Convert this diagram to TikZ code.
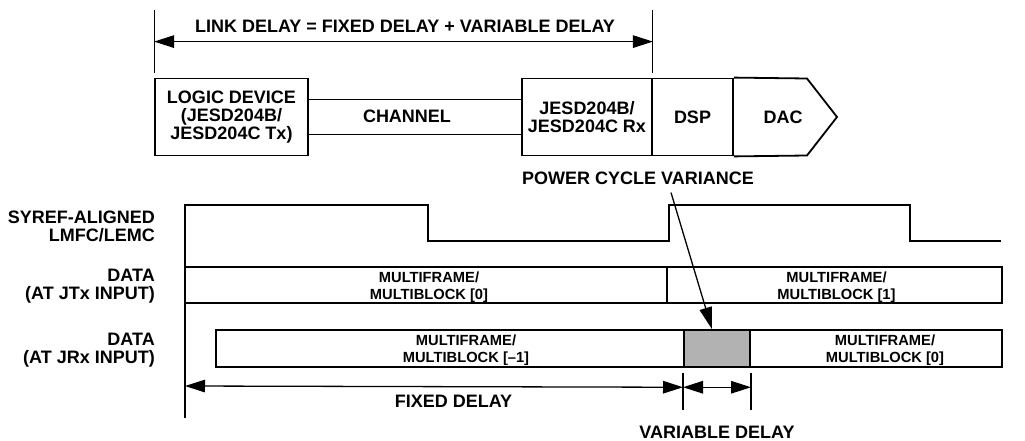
\documentclass[tikz,border=0pt]{standalone}
\usepackage{fontspec}
\setmainfont{Liberation Sans}
\usetikzlibrary{arrows.meta}
\begin{document}
\begin{tikzpicture}[x=1pt,y=-1pt,
  big/.style={font=\bfseries\fontsize{18}{18}\selectfont, inner sep=0pt, align=center},
  sml/.style={font=\bfseries\fontsize{14.7}{16.5}\selectfont, inner sep=0pt, align=center},
  blk/.style={draw, line width=1.8pt, inner sep=0pt, minimum height=77pt},
  dbox/.style={draw, line width=2pt, inner sep=0pt, minimum height=36.5pt},
  thinline/.style={line width=1.1pt},
  dim/.style={line width=1.3pt, {Triangle[length=20pt,width=12.5pt]}-{Triangle[length=20pt,width=12.5pt]}},
  sig/.style={line width=2pt, line join=miter},
]
\useasboundingbox (0,0) rectangle (1025,441);

% top block diagram
\node[blk, minimum width=153pt, big] (logic) at (231.5,117) {LOGIC DEVICE\\(JESD204B/\\JESD204C Tx)};
\node[blk, minimum width=130pt, big] (rx) at (587,117) {JESD204B/\\JESD204C Rx};
\node[blk, minimum width=81pt, big] (dsp) at (692.5,117) {DSP};
\node[big] (dac) at (783,117) {DAC};
\draw[line width=1.8pt, line join=miter] (dsp.north east) -- (807,78.5) -- (837,117) -- (807,155.5) -- (dsp.south east);
\draw[line width=1.5pt] ([yshift=17.5pt]logic.east) -- ([yshift=17.5pt]rx.west);
\draw[line width=1.5pt] ([yshift=-17.5pt]logic.east) -- ([yshift=-17.5pt]rx.west);
\node[big] (chan) at (407,116) {CHANNEL};

% link delay dimension
\draw[thinline] ([yshift=5pt]logic.north west) -- ++(0,-63);
\draw[thinline] ([yshift=5pt]rx.north east) -- ++(0,-63);
\draw[dim] ([yshift=36pt]logic.north west) -- ([yshift=36pt]rx.north east);
\node[big] (link) at (405,26) {LINK DELAY = FIXED DELAY + VARIABLE DELAY};

\node[big] (pcv) at (638,178) {POWER CYCLE VARIANCE};

% left labels
\node[big, anchor=east, align=right] (lsy) at (155,226.5) {SYREF-ALIGNED\\LMFC/LEMC};
\node[big, anchor=east, align=right] (ltx) at (155,286) {DATA\\(AT JTx INPUT)};
\node[big, anchor=east, align=right] (lrx) at (155,350) {DATA\\(AT JRx INPUT)};

% reference line
\draw[thinline] (185,205) -- (185,418);

% LMFC waveform
\draw[sig] (185,241) -- (185,205) -- (428,205) -- (428,241) -- (669,241) -- (669,205) -- (910,205) -- (910,241) -- (1001,241);

% data boxes
\node[dbox, minimum width=482pt] (tx0) at (426,285) {};
\node[dbox, minimum width=335pt] (tx1) at (834.5,285) {};
\node[dbox, minimum width=468pt] (rxm1) at (450,348.5) {};
\node[dbox, minimum width=66pt, fill=black!30] (var) at (717,348.5) {};
\node[dbox, minimum width=252pt] (rx0) at (876,348.5) {};

\node[sml] (t0) at (429,287) {MULTIFRAME/\\MULTIBLOCK [0]};
\node[sml] (t1) at (836.5,287) {MULTIFRAME/\\MULTIBLOCK [1]};
\node[sml] (tm1) at (466,350) {MULTIFRAME/\\MULTIBLOCK [–1]};
\node[sml] (tr0) at (885,350) {MULTIFRAME/\\MULTIBLOCK [0]};

% power cycle arrow
\draw[line width=1.3pt, -{Triangle[length=22pt,width=12.5pt]}] ([xshift=33pt,yshift=-8pt]pcv.south) -- ([xshift=-5pt]var.north);

% delay dimensions
\coordinate (fl) at (185,386);
\draw[thinline] ([yshift=-5pt]var.south west) -- ++(0,37);
\draw[thinline] ([yshift=-5pt]var.south east) -- ++(0,37);
\draw[dim] (fl) -- ([yshift=-19.5pt]var.south west);
\draw[dim] ([yshift=-19.5pt]var.south west) -- ([yshift=-19.5pt]var.south east);
\node[big] (fixed) at (453.5,401) {FIXED DELAY};
\node[big] (vard) at (717,432.5) {VARIABLE DELAY};
\end{tikzpicture}
\end{document}
